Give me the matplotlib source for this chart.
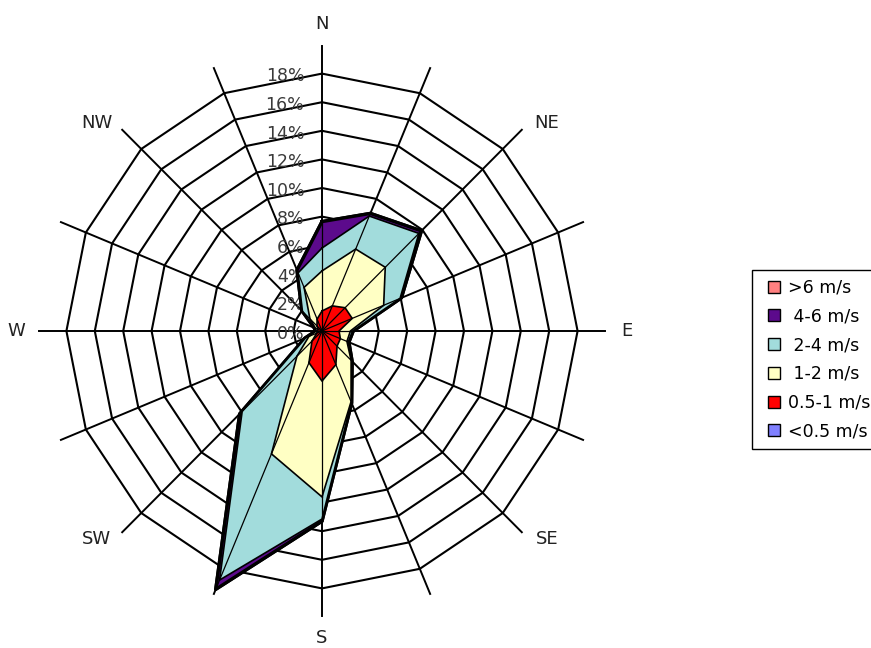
import numpy as np
import matplotlib.pyplot as plt
from matplotlib.lines import Line2D

# wind directions, clockwise from north
directions = ["N", "NNE", "NE", "ENE", "E", "ESE", "SE", "SSE",
              "S", "SSW", "SW", "WSW", "W", "WNW", "NW", "NNW"]

# frequency (%) for each speed class and direction
freq_lt05 = [0.1, 0.1, 0.1, 0.1, 0.1, 0.1, 0.1, 0.1, 0.1, 0.1, 0.1, 0.1, 0.1, 0.1, 0.1, 0.1]
freq_05_1 = [1.3, 1.8, 2.2, 2.2, 1.1, 1.3, 1.4, 2.45, 3.4, 2.3, 0.9, 0.3, 0.2, 0.2, 0.4, 0.8]
freq_1_2 = [2.8, 4.3, 4.0, 2.4, 0.8, 0.5, 1.4, 2.8, 8.1, 6.9, 1.5, 0.6, 0.1, 0.2, 0.7, 2.4]
freq_2_4 = [1.6, 2.5, 3.35, 1.25, 0.15, 0.1, 0.05, 0.05, 1.55, 9.55, 5.45, 0.25, 0.0, 0.05, 0.75, 1.1]
freq_4_6 = [1.85, 0.2, 0.25, 0.1, 0.05, 0.05, 0.05, 0.05, 0.15, 0.7, 0.25, 0.05, 0.05, 0.05, 0.05, 0.2]
freq_gt6 = [0.0, 0.0, 0.0, 0.0, 0.0, 0.0, 0.0, 0.0, 0.0, 0.0, 0.0, 0.0, 0.0, 0.0, 0.0, 0.0]

classes = [">6 m/s", " 4-6 m/s", " 2-4 m/s", " 1-2 m/s", "0.5-1 m/s", "<0.5 m/s"]
colors = ["#ff8080", "#5c0a8c", "#a2dcdc", "#ffffc4", "#ff0000", "#8080ff"]

rings = [0, 2, 4, 6, 8, 10, 12, 14, 16, 18]
compass = ["N", "NE", "E", "SE", "S", "SW", "W", "NW"]

# stacked (cumulative) radii, inner class first
stack = np.cumsum(np.vstack([freq_lt05, freq_05_1, freq_1_2,
                             freq_2_4, freq_4_6, freq_gt6]), axis=0)

theta = np.deg2rad(np.arange(len(directions)) * 22.5)


def to_xy(r, th):
    r = np.asarray(r)
    return r * np.sin(th), r * np.cos(th)


fig = plt.figure(figsize=(8.71, 6.48), dpi=100)
ax = fig.add_axes([0, 0, 1, 1])
px_x, px_y = 14.2, 14.3  # pixels per percent
ax.set_xlim(-322 / px_x, (871 - 322) / px_x)
ax.set_ylim(-(648 - 331) / px_y, 331 / px_y)
ax.axis("off")

# polygon grid rings
th_closed = np.append(theta, theta[0])
for v in rings[1:]:
    gx, gy = to_xy(np.full(th_closed.size, v), th_closed)
    ax.plot(gx, gy, color="black", lw=1.5, zorder=1)

# spokes
r_spoke = 19.9
for th in theta[:8]:
    sx, sy = to_xy([r_spoke, -r_spoke], th)
    ax.plot(sx, sy, color="black", lw=1.4, zorder=1)

# percent labels
for v in rings:
    ax.text(-1.25, v - 0.2, f"{v}%", ha="right", va="center",
            fontsize=12.5, color="#3a3a3a", zorder=1.5)

# compass labels
lab_angle = {"N": 0, "NE": 47.5, "E": 90, "SE": 132.5,
             "S": 180, "SW": 227.5, "W": 270, "NW": 312.5}
for name in compass:
    lx, ly = to_xy(21.5, np.deg2rad(lab_angle[name]))
    ax.text(lx, ly, name, ha="center", va="center", fontsize=13, color="#222222")

# filled wind rose, outermost class first
n_cls = stack.shape[0]
for k in range(n_cls - 1, -1, -1):
    r = stack[k]
    px, py = to_xy(np.append(r, r[0]), th_closed)
    z = 2 + (n_cls - k)
    ax.fill(px, py, color=colors[n_cls - 1 - k], zorder=z, lw=0)
    edge_lw = 2.4 if k >= 4 else 1.2
    ax.plot(px, py, color="black", lw=edge_lw, zorder=z + 0.2)
    for ri, th in zip(r, theta):
        rx, ry = to_xy([0, ri], th)
        ax.plot(rx, ry, color="black", lw=0.9, zorder=z + 0.1)

handles = [Line2D([], [], marker="s", linestyle="none", markersize=8,
                  markerfacecolor=c, markeredgecolor="black", markeredgewidth=1)
           for c in colors]
leg = fig.legend(handles, classes, loc="upper left",
                 bbox_to_anchor=(752 / 871, 1 - 270 / 648),
                 fontsize=12.5, frameon=True, fancybox=False, framealpha=1,
                 edgecolor="black", borderaxespad=0, handlelength=1.5,
                 labelspacing=0.62, handletextpad=0.1, borderpad=0.5)
leg.get_frame().set_linewidth(1)

plt.savefig("out.png", dpi=100)
